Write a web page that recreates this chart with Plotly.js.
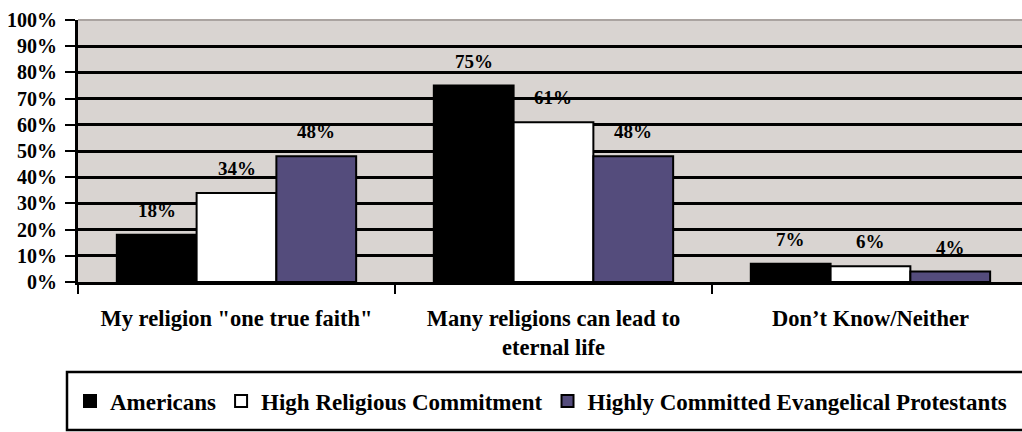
<!DOCTYPE html>
<html>
<head>
<meta charset="utf-8">
<script src="https://cdn.plot.ly/plotly-3.0.1.min.js"></script>
<style>
  html, body { margin: 0; padding: 0; background: #ffffff; }
  #chart { width: 1022px; height: 432px; }
</style>
</head>
<body>
<div id="chart"></div>
<script>
// ---- data ----
const categories = ['My religion "one true faith"', 'Many religions can lead to<br>eternal life', 'Don\u2019t Know/Neither'];
const seriesNames = ['Americans', 'High Religious Commitment', 'Highly Committed Evangelical Protestants'];
const americans = [18, 75, 7];
const highReligious = [34, 61, 6];
const evangelical = [48, 48, 4];
const yTickValues = [0, 10, 20, 30, 40, 50, 60, 70, 80, 90, 100];
const yTickLabels = ['0%', '10%', '20%', '30%', '40%', '50%', '60%', '70%', '80%', '90%', '100%'];

// ---- style ----
const colors = ['#000000', '#ffffff', '#544c7c'];
const FONT = '"Liberation Serif", "Times New Roman", serif';
const bargap = 0.245;
const seriesValues = [americans, highReligious, evangelical];

const traces = seriesValues.map((vals, i) => ({
  type: 'bar',
  name: seriesNames[i],
  x: categories,
  y: vals,
  marker: { color: colors[i], line: { color: '#000000', width: 2 } },
  hoverinfo: 'none'
}));

// data labels above bars (positions from the axes)
const barW = (1 - bargap) / seriesValues.length;
const annotations = [];
seriesValues.forEach((vals, i) => {
  vals.forEach((v, j) => {
    annotations.push({
      x: j + (i - (seriesValues.length - 1) / 2) * barW,
      y: v,
      xref: 'x', yref: 'y',
      text: v + '%',
      showarrow: false,
      yanchor: 'bottom',
      yshift: 12,
      font: { family: FONT, size: 19, color: '#000000', weight: 'bold' }
    });
  });
});

const layout = {
  width: 1022,
  height: 432,
  margin: { l: 78, r: 0, t: 20, b: 150, pad: 0 },
  paper_bgcolor: '#ffffff',
  plot_bgcolor: '#d9d4d1',
  barmode: 'group',
  bargap: bargap,
  bargroupgap: 0,
  showlegend: true,
  font: { family: FONT, color: '#000000', weight: 'bold' },
  xaxis: {
    type: 'category',
    range: [-0.5, 2.478],
    showgrid: false,
    showline: true,
    linecolor: '#000000',
    linewidth: 3,
    ticks: 'outside',
    tickson: 'boundaries',
    ticklen: 9,
    tickwidth: 2,
    tickcolor: '#000000',
    ticklabelstandoff: 14,
    tickfont: { family: FONT, size: 22.5, color: '#000000', weight: 'bold' },
    fixedrange: true
  },
  yaxis: {
    range: [0, 100],
    tickmode: 'array',
    tickvals: yTickValues,
    ticktext: yTickLabels,
    showgrid: true,
    gridcolor: '#000000',
    gridwidth: 3,
    zeroline: false,
    showline: true,
    linecolor: '#000000',
    linewidth: 3,
    ticks: 'outside',
    ticklen: 10,
    tickwidth: 2,
    tickcolor: '#000000',
    ticklabelstandoff: 4,
    tickfont: { family: FONT, size: 20, color: '#000000', weight: 'bold' },
    fixedrange: true
  },
  shapes: [
    { // legend frame, extending past the right edge as in the reference
      type: 'rect', xref: 'paper', yref: 'paper',
      x0: (67 - 78) / 944, x1: 1.05,
      y0: (282 - 430) / 262, y1: (282 - 372) / 262,
      fillcolor: '#ffffff',
      line: { color: '#000000', width: 2.5 },
      layer: 'above'
    },
    { // thin grey top border of plot area
      type: 'line', xref: 'paper', yref: 'paper',
      x0: 0, x1: 1, y0: 1, y1: 1,
      line: { color: '#aaa3a0', width: 2 },
      layer: 'above'
    }
  ],
  legend: {
    orientation: 'h',
    xref: 'container', yref: 'container',
    x: 70 / 1022, xanchor: 'left',
    y: 1 - 401 / 432, yanchor: 'middle',
    bgcolor: 'rgba(0,0,0,0)',
    borderwidth: 0,
    itemclick: false,
    itemdoubleclick: false,
    font: { family: FONT, size: 23, color: '#000000', weight: 'bold' }
  },
  annotations: annotations
};

Plotly.newPlot('chart', traces, layout, { displayModeBar: false, staticPlot: true });
</script>
</body>
</html>
